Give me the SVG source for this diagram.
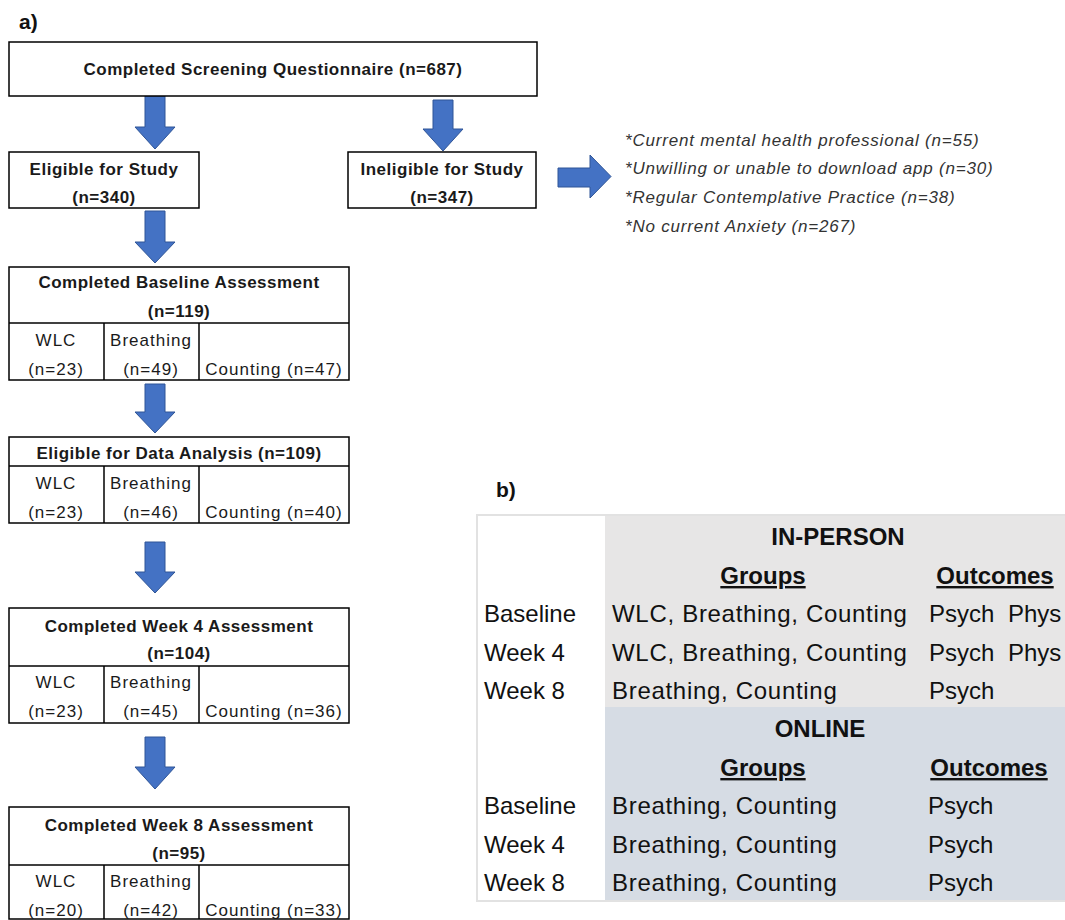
<svg xmlns="http://www.w3.org/2000/svg" width="1065" height="920" viewBox="0 0 1065 920">
<style>
.box{fill:#fff;stroke:#000;stroke-width:1.5}
.ln{stroke:#000;stroke-width:1.5}
.arr{fill:#4472c4;stroke:#2f5597;stroke-width:1}
.tb{font-family:"Liberation Sans",Arial,sans-serif;font-weight:bold;font-size:17px;letter-spacing:0.5px;fill:#1a1a1a;text-anchor:middle}
.ts{font-family:"Liberation Sans",Arial,sans-serif;font-size:17px;letter-spacing:1px;fill:#1a1a1a;text-anchor:middle}
.ti{font-family:"Liberation Sans",Arial,sans-serif;font-style:italic;font-size:17px;letter-spacing:0.8px;fill:#333}
.tt{font-family:"Liberation Sans",Arial,sans-serif;font-size:24px;fill:#111}
.tg{letter-spacing:0.7px}
.th{font-family:"Liberation Sans",Arial,sans-serif;font-size:24px;font-weight:bold;fill:#111;text-anchor:middle}
.lab{font-family:"Liberation Sans",Arial,sans-serif;font-size:21px;font-weight:bold;fill:#111}
</style>
<rect width="1065" height="920" fill="#fff"/>
<text class="lab" x="19" y="29">a)</text>
<text class="lab" x="496" y="497">b)</text>

<g id="connectors">
<path class="arr" d="M145,96 H165 V127 H175 L155,149 L135,127 H145 Z"/>
<path class="arr" d="M433,100 H453 V129 H463 L443,151 L423,129 H433 Z"/>
<path class="arr" d="M145,211 H165 V242 H175 L155,263 L135,242 H145 Z"/>
<path class="arr" d="M145,384 H165 V412 H175 L155,433 L135,412 H145 Z"/>
<path class="arr" d="M145,542 H165 V572 H175 L155,593 L135,572 H145 Z"/>
<path class="arr" d="M145,737 H165 V767 H175 L155,789 L135,767 H145 Z"/>
<path class="arr" d="M558,168 H590 V155 L611,176.5 L590,198 V187 H558 Z"/>
</g>

<g id="n-screening">
<rect class="box" x="9" y="42" width="528" height="54"/>
<text class="tb" x="273" y="75">Completed Screening Questionnaire (n=687)</text>
</g>
<g id="n-eligible">
<rect class="box" x="9" y="152" width="190" height="56"/>
<text class="tb" x="104" y="175">Eligible for Study</text>
<text class="tb" x="104" y="203">(n=340)</text>
</g>
<g id="n-ineligible">
<rect class="box" x="348" y="152" width="188" height="56"/>
<text class="tb" x="442" y="175">Ineligible for Study</text>
<text class="tb" x="442" y="203">(n=347)</text>
</g>
<g id="n-reasons">
<text class="ti" x="625" y="146">*Current mental health professional (n=55)</text>
<text class="ti" x="625" y="174">*Unwilling or unable to download app (n=30)</text>
<text class="ti" x="625" y="203">*Regular Contemplative Practice (n=38)</text>
<text class="ti" x="625" y="232">*No current Anxiety (n=267)</text>
</g>

<g id="n-baseline">
<rect class="box" x="9" y="267" width="340" height="113"/>
<line class="ln" x1="9" y1="323" x2="349" y2="323"/>
<line class="ln" x1="104" y1="323" x2="104" y2="380"/>
<line class="ln" x1="199" y1="323" x2="199" y2="380"/>
<text class="tb" x="179" y="288">Completed Baseline Assessment</text>
<text class="tb" x="179" y="317">(n=119)</text>
<text class="ts" x="56" y="346">WLC</text>
<text class="ts" x="56" y="375">(n=23)</text>
<text class="ts" x="151" y="346">Breathing</text>
<text class="ts" x="151" y="375">(n=49)</text>
<text class="ts" x="274" y="375">Counting (n=47)</text>
</g>

<g id="n-analysis">
<rect class="box" x="9" y="437" width="340" height="86"/>
<line class="ln" x1="9" y1="466" x2="349" y2="466"/>
<line class="ln" x1="104" y1="466" x2="104" y2="523"/>
<line class="ln" x1="199" y1="466" x2="199" y2="523"/>
<text class="tb" x="179" y="459">Eligible for Data Analysis (n=109)</text>
<text class="ts" x="56" y="489">WLC</text>
<text class="ts" x="56" y="518">(n=23)</text>
<text class="ts" x="151" y="489">Breathing</text>
<text class="ts" x="151" y="518">(n=46)</text>
<text class="ts" x="274" y="518">Counting (n=40)</text>
</g>

<g id="n-week4">
<rect class="box" x="9" y="608" width="340" height="115"/>
<line class="ln" x1="9" y1="666" x2="349" y2="666"/>
<line class="ln" x1="104" y1="666" x2="104" y2="723"/>
<line class="ln" x1="199" y1="666" x2="199" y2="723"/>
<text class="tb" x="179" y="632">Completed Week 4 Assessment</text>
<text class="tb" x="179" y="659">(n=104)</text>
<text class="ts" x="56" y="688">WLC</text>
<text class="ts" x="56" y="717">(n=23)</text>
<text class="ts" x="151" y="688">Breathing</text>
<text class="ts" x="151" y="717">(n=45)</text>
<text class="ts" x="274" y="717">Counting (n=36)</text>
</g>

<g id="n-week8">
<rect class="box" x="9" y="807" width="340" height="112"/>
<line class="ln" x1="9" y1="865" x2="349" y2="865"/>
<line class="ln" x1="104" y1="865" x2="104" y2="919"/>
<line class="ln" x1="199" y1="865" x2="199" y2="919"/>
<text class="tb" x="179" y="831">Completed Week 8 Assessment</text>
<text class="tb" x="179" y="859">(n=95)</text>
<text class="ts" x="56" y="887">WLC</text>
<text class="ts" x="56" y="916">(n=20)</text>
<text class="ts" x="151" y="887">Breathing</text>
<text class="ts" x="151" y="916">(n=42)</text>
<text class="ts" x="274" y="916">Counting (n=33)</text>
</g>

<g id="table-b">
<rect x="477" y="515" width="588" height="386" fill="#fff" stroke="#e2e2e2" stroke-width="2"/>
<rect x="605" y="516" width="460" height="191" fill="#e7e6e6"/>
<rect x="605" y="707" width="460" height="193" fill="#d6dce4"/>
<text class="th" x="838" y="545">IN-PERSON</text>
<text class="th" x="763" y="584" text-decoration="underline">Groups</text>
<text class="th" x="995" y="584" text-decoration="underline">Outcomes</text>
<text class="tt" x="484" y="622">Baseline</text>
<text class="tt tg" x="612" y="622">WLC, Breathing, Counting</text>
<text class="tt" x="929" y="622">Psych</text>
<text class="tt" x="1008" y="622">Phys</text>
<text class="tt" x="484" y="661">Week 4</text>
<text class="tt tg" x="612" y="661">WLC, Breathing, Counting</text>
<text class="tt" x="929" y="661">Psych</text>
<text class="tt" x="1008" y="661">Phys</text>
<text class="tt" x="484" y="699">Week 8</text>
<text class="tt tg" x="612" y="699">Breathing, Counting</text>
<text class="tt" x="929" y="699">Psych</text>
<text class="th" x="820" y="737">ONLINE</text>
<text class="th" x="763" y="776" text-decoration="underline">Groups</text>
<text class="th" x="989" y="776" text-decoration="underline">Outcomes</text>
<text class="tt" x="484" y="814">Baseline</text>
<text class="tt tg" x="612" y="814">Breathing, Counting</text>
<text class="tt" x="928" y="814">Psych</text>
<text class="tt" x="484" y="853">Week 4</text>
<text class="tt tg" x="612" y="853">Breathing, Counting</text>
<text class="tt" x="928" y="853">Psych</text>
<text class="tt" x="484" y="891">Week 8</text>
<text class="tt tg" x="612" y="891">Breathing, Counting</text>
<text class="tt" x="928" y="891">Psych</text>
</g>
</svg>
